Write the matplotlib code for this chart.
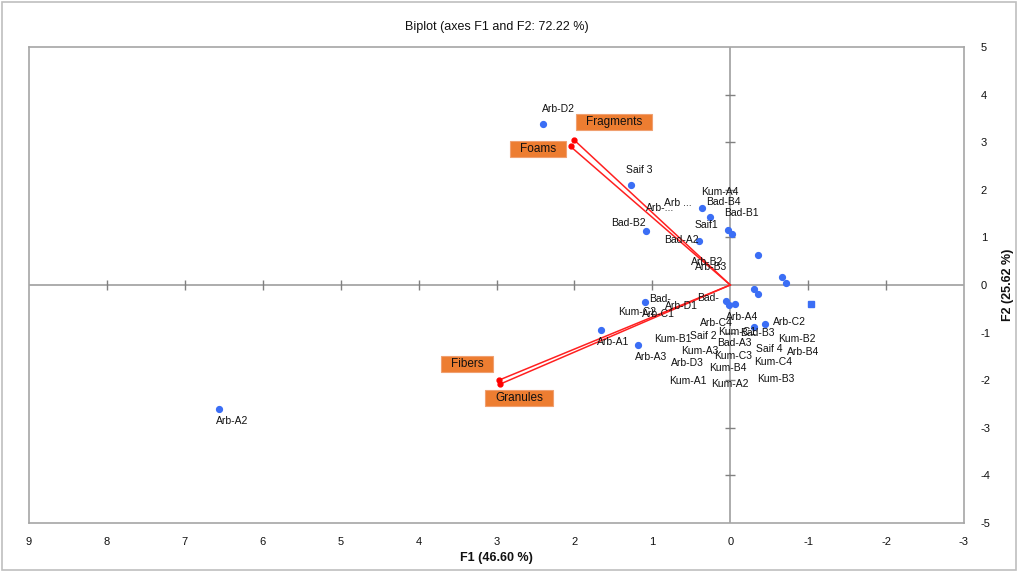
import numpy as np
import matplotlib
matplotlib.use("Agg")
import matplotlib.pyplot as plt
from matplotlib.patches import Rectangle

plt.rcParams['font.family'] = ['Liberation Sans', 'DejaVu Sans']
plt.rcParams['axes.unicode_minus'] = False

# observation scores (F1, F2)
obs_x = [6.56, 2.40, 1.28, 1.08, 0.40, 0.36, 0.26, 0.03, -0.02, -0.35, -0.67, -0.71,
         -0.30, -0.35, 0.06, 0.01, -0.06, 1.10, 1.66, 1.18, -0.31, -0.45]
obs_y = [-2.61, 3.38, 2.10, 1.13, 0.92, 1.62, 1.42, 1.16, 1.08, 0.62, 0.17, 0.05,
         -0.08, -0.20, -0.33, -0.42, -0.40, -0.36, -0.95, -1.27, -0.88, -0.83]
sq_x = [-1.04]
sq_y = [-0.40]

# observation labels as placed on the chart
lab_names = ['Arb-A2', 'Arb-D2', 'Saif 3', 'Arb ...', 'Arb-...', 'Kum-A4', 'Bad-B4', 'Bad-B1',
             'Saif1', 'Bad-B2', 'Bad-A2', 'Arb-B2', 'Arb-B3',
             'Bad-', 'Arb-D1', 'Kum-C2', 'Arb-C1', 'Bad-', 'Arb-A4', 'Arb-C2', 'Arb-C4',
             'Kum-C1', 'Bad-B3', 'Kum-B1', 'Saif 2', 'Bad-A3', 'Kum-B2', 'Kum-A3', 'Saif 4',
             'Arb-B4', 'Arb-A1', 'Arb-A3', 'Arb-D3', 'Kum-C3', 'Kum-C4', 'Kum-B4', 'Kum-A1',
             'Kum-A2', 'Kum-B3']
lab_x = [6.39, 2.21, 1.17, 0.67, 0.90, 0.14, 0.09, -0.15, 0.30, 1.31, 0.63, 0.30, 0.24,
         0.90, 0.62, 1.20, 0.92, 0.28, -0.15, -0.76, 0.18, -0.09, -0.35, 0.73, 0.35, -0.05,
         -0.86, 0.39, -0.50, -0.94, 1.50, 1.01, 0.55, -0.04, -0.55, 0.03, 0.54, 0.01, -0.58]
lab_y = [-2.86, 3.70, 2.42, 1.72, 1.62, 1.95, 1.74, 1.51, 1.26, 1.30, 0.94, 0.48, 0.38,
         -0.29, -0.44, -0.57, -0.61, -0.27, -0.67, -0.78, -0.80, -0.99, -1.01, -1.14, -1.07,
         -1.22, -1.14, -1.39, -1.35, -1.41, -1.20, -1.51, -1.64, -1.49, -1.62, -1.74, -2.02,
         -2.08, -1.97]

# variable loadings and their label boxes
var_names = ['Fragments', 'Foams', 'Fibers', 'Granules']
var_x = [2.00, 2.05, 2.97, 2.95]
var_y = [3.04, 2.91, -2.00, -2.08]
box_x = [1.49, 2.47, 3.38, 2.71]
box_y = [3.42, 2.85, -1.65, -2.37]

grey = '#a6a6a6'
fig = plt.figure(figsize=(10.19, 5.72), dpi=100)
fig.patches.append(Rectangle((0.002, 0.003), 0.995, 0.994, transform=fig.transFigure,
                             fill=False, edgecolor='#bfbfbf', linewidth=1.2))
ax = fig.add_axes([0.0285, 0.0857, 0.9175, 0.8322])
ax.set_xlim(9, -3)
ax.set_ylim(-5, 5)

ax.axhline(0, color=grey, lw=1.3, zorder=1)
ax.axvline(0, color=grey, lw=1.3, zorder=1)
xt = [v for v in range(-2, 9) if v != 0]
yt = [v for v in range(-4, 5) if v != 0]
ax.plot(xt, [0] * len(xt), ls='none', marker='|', ms=7, color='#808080', mew=1, zorder=1)
ax.plot([0] * len(yt), yt, ls='none', marker='_', ms=7, color='#808080', mew=1, zorder=1)

for vx, vy in zip(var_x, var_y):
    ax.plot([0, vx], [0, vy], color='#ff2020', lw=1.1, zorder=2)
ax.plot(var_x, var_y, ls='none', marker='o', ms=3.5, color='#ff0000', zorder=3)

ax.plot(obs_x, obs_y, ls='none', marker='o', ms=4.2, color='#3b6ef5', zorder=4)
ax.plot(sq_x, sq_y, ls='none', marker='s', ms=4.5, color='#3b6ef5', zorder=4)

for name, lx, ly in zip(lab_names, lab_x, lab_y):
    ax.text(lx, ly, name, fontsize=7.5, ha='center', va='center', color='#111111', zorder=5)

# orange boxes: text first, then a rectangle sized from its extent
fig.canvas.draw()
renderer = fig.canvas.get_renderer()
inv = ax.transData.inverted()
for name, bx, by in zip(var_names, box_x, box_y):
    t = ax.text(bx, by, name, fontsize=8.5, ha='center', va='center', color='#111111', zorder=7)
    bb = t.get_window_extent(renderer)
    (x0, y0), (x1, y1) = inv.transform([(bb.x0 - 10, bb.y0 - 2), (bb.x1 + 10, bb.y1 + 2)])
    ax.add_patch(Rectangle((x0, y0), x1 - x0, y1 - y0, facecolor='#ed7d31',
                           edgecolor='#f0a070', lw=0.8, zorder=6))

ax.set_xticks(range(-3, 10))
ax.set_yticks(range(-5, 6))
ax.yaxis.tick_right()
ax.yaxis.set_label_position('right')
ax.tick_params(axis='both', length=0, labelsize=8, colors='#111111')
ax.tick_params(axis='x', pad=10)
ax.tick_params(axis='y', pad=12)
for s in ax.spines.values():
    s.set_color(grey)
    s.set_linewidth(1.2)

ax.set_title('Biplot (axes F1 and F2: 72.22 %)', fontsize=9, pad=12, color='#111111')
ax.set_xlabel('F1 (46.60 %)', fontsize=9, fontweight='bold', labelpad=4, color='#111111')
ax.set_ylabel('F2 (25.62 %)', fontsize=9, fontweight='bold', labelpad=8, color='#111111')

fig.savefig('out.png', dpi=100)
